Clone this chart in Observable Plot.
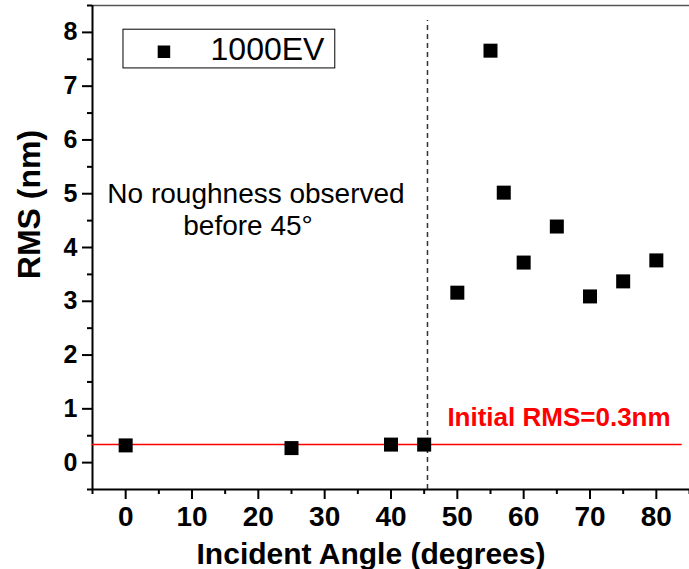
<!DOCTYPE html>
<html>
<head>
<meta charset="utf-8">
<script src="https://cdn.jsdelivr.net/npm/d3@7"></script>
<script src="https://cdn.jsdelivr.net/npm/@observablehq/plot@0.6"></script>
<style>
  html, body { margin: 0; padding: 0; background: white; }
</style>
</head>
<body>
<div id="chart"></div>
<script>
// ---- data ----
const angles = [0, 25, 40, 45, 50, 55, 57, 60, 65, 70, 75, 80];
const rms = [0.32, 0.27, 0.335, 0.335, 3.16, 7.66, 5.02, 3.72, 4.39, 3.09, 3.37, 3.76];
const seriesName = "1000EV";
const initialRMS = 0.335;
const thresholdAngle = 45.5;
const xMajorTicks = [0, 10, 20, 30, 40, 50, 60, 70, 80];
const xMinorTicks = [-5, 5, 15, 25, 35, 45, 55, 65, 75, 85];
const yMajorTicks = [0, 1, 2, 3, 4, 5, 6, 7, 8];
const yMinorTicks = [-0.5, 0.5, 1.5, 2.5, 3.5, 4.5, 5.5, 6.5, 7.5, 8.5];
const xLabel = "Incident Angle (degrees)";
const yLabel = "RMS (nm)";
const noteLines = ["No roughness observed", "before 45°"];
const initialLabel = "Initial RMS=0.3nm";

const FONT = "'Liberation Sans', Arial, Helvetica, sans-serif";
const points = angles.map((a, i) => ({angle: a, rms: rms[i]}));
const intFmt = d3.format("d");
const noLabel = () => "";

const chart = Plot.plot({
  width: 689,
  height: 569,
  marginLeft: 92,
  marginRight: 0,
  marginTop: 5,
  marginBottom: 80,
  x: {domain: [-5, 85]},
  y: {domain: [-0.5, 8.5]},
  style: {fontFamily: FONT, background: "white", color: "black"},
  marks: [
    // frame lines
    Plot.ruleY([8.5], {x1: -5, x2: 85, stroke: "#555", strokeWidth: 1.5}),
    Plot.ruleX([-5], {y1: -0.5, y2: 8.5, stroke: "black", strokeWidth: 2}),
    Plot.ruleY([-0.5], {x1: -5, x2: 85, stroke: "black", strokeWidth: 2}),
    // axes
    Plot.axisX(xMajorTicks, {tickSize: 10, tickPadding: 7, tickFormat: intFmt, fontSize: 28, fontWeight: "bold", strokeWidth: 2, label: null}),
    Plot.axisX(xMinorTicks, {tickSize: 5, tickFormat: noLabel, strokeWidth: 2, label: null}),
    Plot.axisY(yMajorTicks, {tickSize: 10, tickPadding: 5, tickFormat: intFmt, fontSize: 25, fontWeight: "bold", strokeWidth: 2, label: null}),
    Plot.axisY(yMinorTicks, {tickSize: 5, tickFormat: noLabel, strokeWidth: 2, label: null}),
    // axis titles
    Plot.text([xLabel], {frameAnchor: "bottom", text: d => d, textAnchor: "middle", lineAnchor: "middle", dx: -20, dy: 65, fontSize: 30, fontWeight: "bold", fill: "black"}),
    Plot.text([yLabel], {frameAnchor: "left", text: d => d, textAnchor: "middle", lineAnchor: "middle", dx: -63, dy: -43, rotate: -90, fontSize: 32, fontWeight: "bold", fill: "black"}),
    // reference lines
    Plot.ruleY([initialRMS], {x1: -5, x2: 83.9, stroke: "#ff0000", strokeWidth: 1.5}),
    Plot.ruleX([thresholdAngle], {y1: -0.5, y2: 8.22, stroke: "#333", strokeWidth: 1.5, strokeDasharray: "5,4"}),
    // data
    Plot.dot(points, {x: "angle", y: "rms", symbol: "square", r: 7.9, fill: "black", stroke: "none"}),
    // annotations
    Plot.text([initialLabel], {x: 48.5, y: 0.83, text: d => d, textAnchor: "start", fontSize: 26, fontWeight: "bold", fill: "#ff0000"}),
    Plot.text([noteLines[0]], {x: 19.65, y: 4.985, text: d => d, fontSize: 28, fill: "black"}),
    Plot.text([noteLines[1]], {x: 18.44, y: 4.39, text: d => d, fontSize: 28, fill: "black"}),
    // legend
    Plot.rect([seriesName], {x1: -0.33, x2: 31.6, y1: 7.33, y2: 8.05, fill: "white", stroke: "black", strokeWidth: 1}),
    Plot.dot([seriesName], {x: 5.77, y: 7.64, symbol: "square", r: 7.05, fill: "black", stroke: "none"}),
    Plot.text([seriesName], {x: 12.8, y: 7.68, text: d => d, textAnchor: "start", fontSize: 32, fill: "black"})
  ]
});
document.getElementById("chart").appendChild(chart);
</script>
</body>
</html>
